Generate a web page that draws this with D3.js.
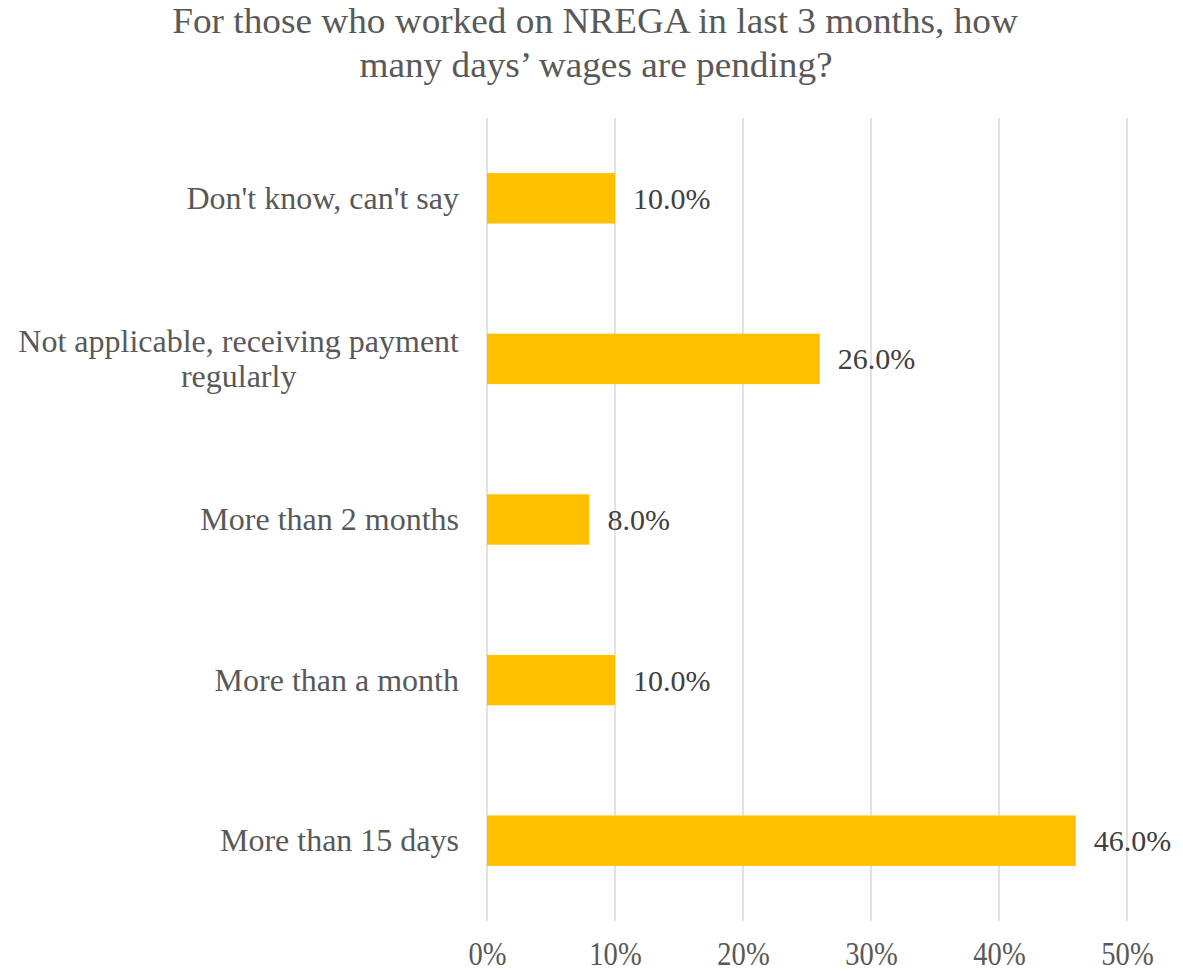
<!DOCTYPE html>
<html>
<head>
<meta charset="utf-8">
<script src="https://cdn.jsdelivr.net/npm/d3@7"></script>
<style>
  html, body { margin: 0; padding: 0; background: #ffffff; }
  svg { display: block; }
</style>
</head>
<body>
<svg id="chart" width="1183" height="972"></svg>
<script>
// Survey responses: pending wage days among recent NREGA workers
const categories = [
  "Don't know, can't say",
  "Not applicable, receiving payment regularly",
  "More than 2 months",
  "More than a month",
  "More than 15 days"
];
const shares = [10.0, 26.0, 8.0, 10.0, 46.0];
const tickValues = [0, 10, 20, 30, 40, 50];
const titleLines = [
  "For those who worked on NREGA in last 3 months, how",
  "many days\u2019 wages are pending?"
];
// Label wrapping used for the long category
const categoryLines = {
  "Not applicable, receiving payment regularly": ["Not applicable, receiving payment", "regularly"]
};

const W = 1183, H = 972;
const margin = { top: 118, right: 56, bottom: 51, left: 487 };
const FONT = "'Liberation Serif', 'Times New Roman', serif";

const svg = d3.select("#chart");

const x = d3.scaleLinear()
  .domain([0, 50])
  .range([margin.left, W - margin.right]);

const y = d3.scaleBand()
  .domain(categories)
  .range([margin.top, H - margin.bottom])
  .paddingInner(0.686)
  .paddingOuter(0.343);

// Vertical gridlines
svg.append("g")
  .selectAll("line")
  .data(tickValues)
  .join("line")
  .attr("x1", d => x(d))
  .attr("x2", d => x(d))
  .attr("y1", margin.top)
  .attr("y2", H - margin.bottom)
  .attr("stroke", "#d9d9d9")
  .attr("stroke-width", 1.5);

// Bars
svg.append("g")
  .selectAll("rect")
  .data(categories)
  .join("rect")
  .attr("x", x(0))
  .attr("y", d => y(d))
  .attr("width", (d, i) => x(shares[i]) - x(0))
  .attr("height", y.bandwidth())
  .attr("fill", "#ffc000");

// Value labels
svg.append("g")
  .selectAll("text")
  .data(categories)
  .join("text")
  .attr("x", (d, i) => x(shares[i]) + 18)
  .attr("y", d => y(d) + y.bandwidth() / 2)
  .attr("dy", "0.35em")
  .attr("font-family", FONT)
  .attr("font-size", 30)
  .attr("fill", "#404040")
  .text((d, i) => shares[i].toFixed(1) + "%");

// Category labels (right aligned block, wrapped lines centred within it)
const labelRight = margin.left - 28;
const catFont = 32;
const lineGap = 35;
categories.forEach(cat => {
  const lines = categoryLines[cat] || [cat];
  const cy = y(cat) + y.bandwidth() / 2;
  const g = svg.append("g");
  const texts = lines.map((ln, k) => g.append("text")
    .attr("font-family", FONT)
    .attr("font-size", catFont)
    .attr("fill", "#595959")
    .attr("text-anchor", "middle")
    .attr("y", cy + (k - (lines.length - 1) / 2) * lineGap)
    .attr("dy", "0.33em")
    .text(ln));
  const maxW = d3.max(texts, t => t.node().getComputedTextLength());
  texts.forEach(t => t.attr("x", labelRight - maxW / 2));
});

// Bottom axis with narrow tick labels
const axis = svg.append("g")
  .attr("transform", `translate(0,${H - margin.bottom})`)
  .call(d3.axisBottom(x).tickValues(tickValues).tickFormat(d => d + "%").tickSize(0).tickPadding(0));
axis.select(".domain").remove();
axis.selectAll("text")
  .attr("font-family", FONT)
  .attr("font-size", 34)
  .attr("fill", "#595959")
  .attr("y", 44)
  .attr("dy", 0)
  .attr("transform", "scale(0.84,1)");

// Title, two centred lines, horizontally narrowed
const title = svg.append("g");
const t1 = title.append("text")
  .attr("font-family", FONT)
  .attr("font-size", 35)
  .attr("fill", "#595959")
  .attr("text-anchor", "middle")
  .text(titleLines[0]);
const sx = 846 / t1.node().getComputedTextLength();
t1.attr("transform", `translate(595,33) scale(${sx},1)`);
title.append("text")
  .attr("font-family", FONT)
  .attr("font-size", 35)
  .attr("fill", "#595959")
  .attr("text-anchor", "middle")
  .attr("transform", `translate(596,77) scale(${sx},1)`)
  .text(titleLines[1]);
</script>
</body>
</html>
